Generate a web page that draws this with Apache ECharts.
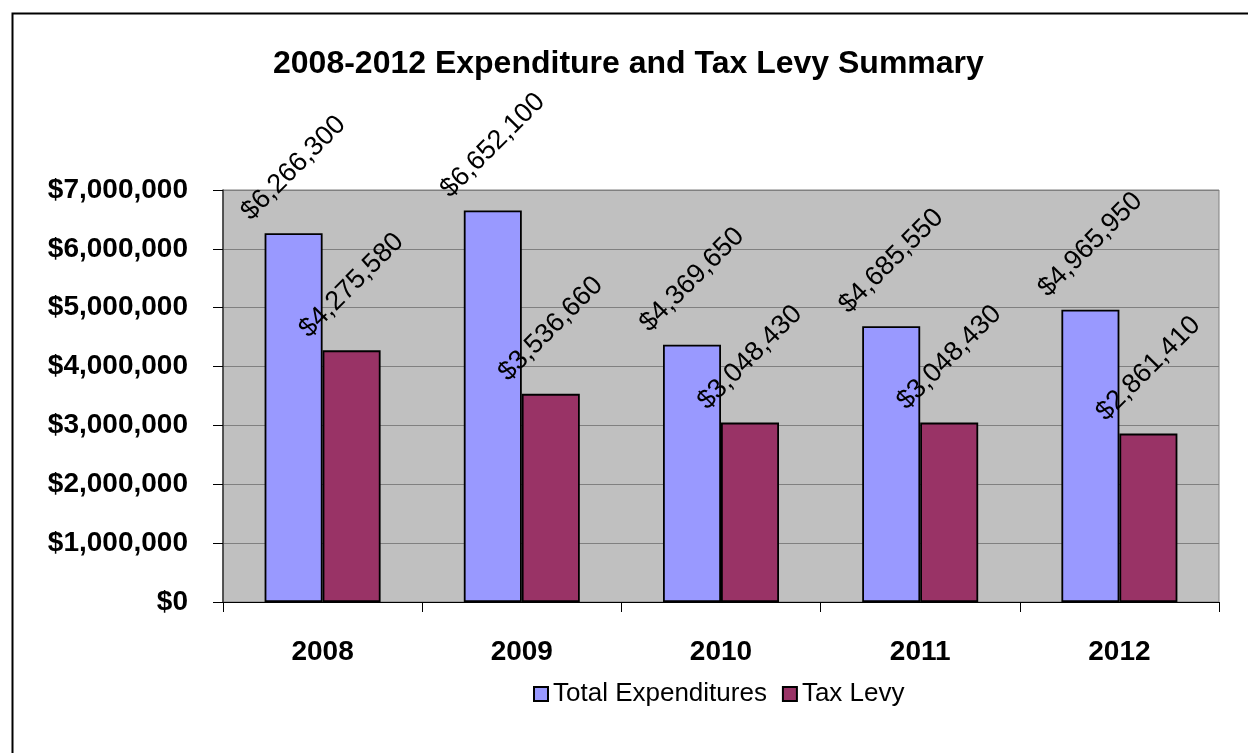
<!DOCTYPE html>
<html>
<head>
<meta charset="utf-8">
<title>2008-2012 Expenditure and Tax Levy Summary</title>
<script src="https://cdn.jsdelivr.net/npm/echarts@6/dist/echarts.min.js"></script>
<style>
  html, body { margin: 0; padding: 0; background: #fff; }
  #chart { width: 1248px; height: 753px; }
</style>
</head>
<body>
<div id="chart"></div>
<script>
// Budget summary by year
const years = ['2008', '2009', '2010', '2011', '2012'];
const totalExpenditures = [6266300, 6652100, 4369650, 4685550, 4965950];
const taxLevy = [4275580, 3536660, 3048430, 3048430, 2861410];
const seriesNames = ['Total Expenditures', 'Tax Levy'];
const chartTitle = '2008-2012 Expenditure and Tax Levy Summary';

const FONT = '"Liberation Sans", Arial, "DejaVu Sans", sans-serif';
const money = v => '$' + Number(v).toLocaleString('en-US');

const chart = echarts.init(document.getElementById('chart'), null, { renderer: 'canvas' });

const valueLabel = {
  show: true,
  position: 'top',
  distance: 65,
  rotate: 45,
  align: 'center',
  verticalAlign: 'middle',
  color: '#000',
  fontFamily: FONT,
  fontSize: 27,
  formatter: p => money(p.value)
};

chart.setOption({
  backgroundColor: '#fff',
  animation: false,
  title: {
    text: chartTitle,
    left: 273,
    top: 48,
    padding: 0,
    textStyle: { fontFamily: FONT, fontSize: 32, fontWeight: 'bold', color: '#000' }
  },
  graphic: [{
    type: 'rect',
    left: 10, top: 11,
    shape: { width: 1300, height: 800 },
    style: { fill: 'none', stroke: '#000', lineWidth: 2 },
    silent: true
  }],
  legend: {
    data: seriesNames,
    left: 528,
    top: 676,
    itemWidth: 14,
    itemHeight: 14,
    itemGap: 15,
    icon: 'rect',
    textStyle: { fontFamily: FONT, fontSize: 26, color: '#000' }
  },
  grid: {
    left: 223, right: 29, top: 190, bottom: 151,
    show: true,
    backgroundColor: '#C0C0C0',
    borderColor: '#808080',
    borderWidth: 1
  },
  xAxis: {
    type: 'category',
    data: years,
    axisLine: { show: true, lineStyle: { color: '#000', width: 1 } },
    axisTick: { show: true, length: 10, lineStyle: { color: '#000' } },
    axisLabel: {
      margin: 36,
      color: '#000',
      fontFamily: FONT,
      fontSize: 28,
      fontWeight: 'bold'
    }
  },
  yAxis: {
    type: 'value',
    min: 0,
    max: 7000000,
    interval: 1000000,
    axisLine: { show: true, lineStyle: { color: '#333', width: 1.5 } },
    axisTick: { show: true, length: 10, lineStyle: { color: '#000' } },
    splitLine: { show: true, lineStyle: { color: '#808080', width: 1 } },
    axisLabel: {
      margin: 35,
      color: '#000',
      fontFamily: FONT,
      fontSize: 28,
      fontWeight: 'bold',
      formatter: v => money(v)
    }
  },
  series: [
    {
      name: seriesNames[0],
      type: 'bar',
      data: totalExpenditures,
      barWidth: 58,
      barGap: '0%',
      itemStyle: { color: '#9999FF', borderColor: '#000', borderWidth: 1.8 },
      label: valueLabel
    },
    {
      name: seriesNames[1],
      type: 'bar',
      data: taxLevy,
      barWidth: 58,
      barGap: '0%',
      itemStyle: { color: '#993366', borderColor: '#000', borderWidth: 1.8 },
      label: valueLabel
    }
  ]
});
</script>
</body>
</html>
